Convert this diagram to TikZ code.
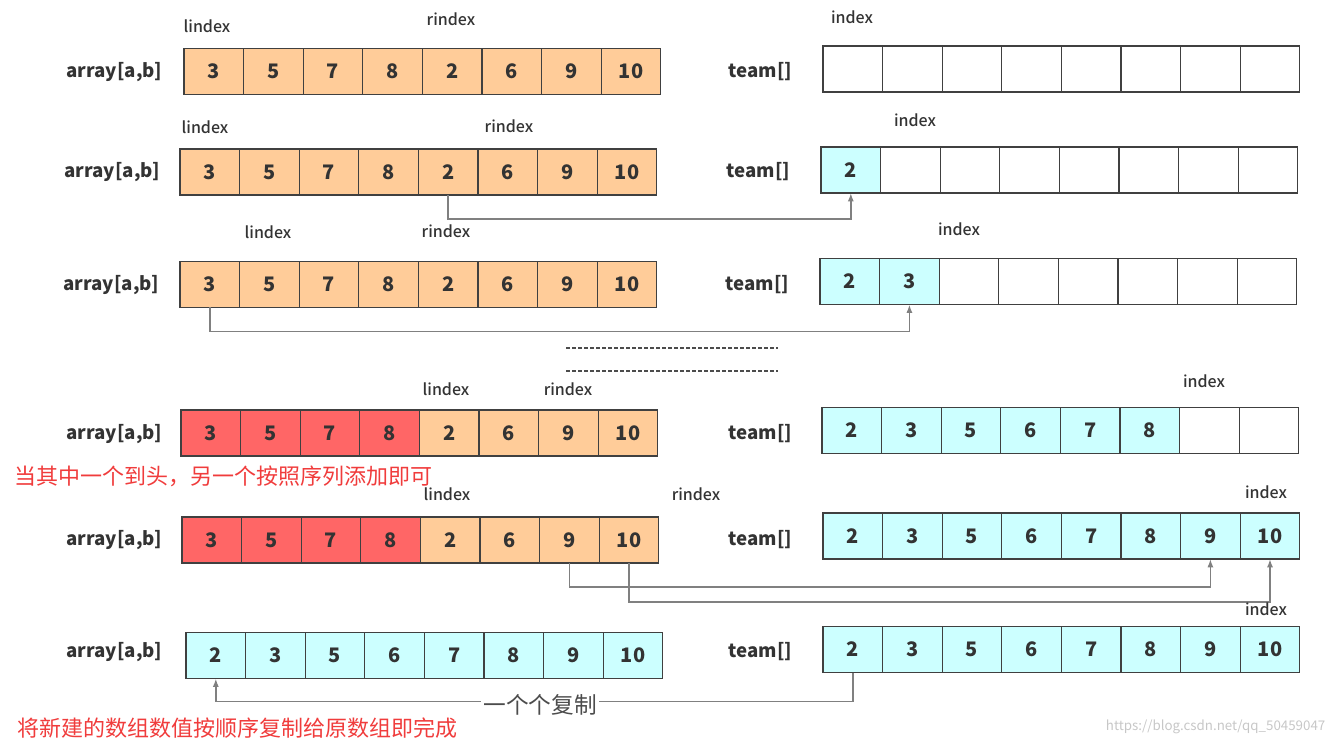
\documentclass[tikz,border=0pt]{standalone}
\usepackage{fontspec}
\setmainfont{Noto Sans CJK SC}
\newfontfamily\medfont{Noto Sans CJK SC Medium}
\usetikzlibrary{arrows.meta,positioning,calc}
\definecolor{cellorg}{RGB}{255,204,153}
\definecolor{cellred}{RGB}{255,102,102}
\definecolor{cellcyn}{RGB}{204,255,255}
\definecolor{linegray}{RGB}{64,64,64}
\definecolor{arrgray}{RGB}{128,128,128}
\definecolor{notered}{RGB}{240,60,60}
\tikzset{
  cell/.style={draw=linegray, line width=1pt, minimum width=44.7pt, minimum height=34.5pt,
    inner sep=0pt, outer sep=0pt, font=\fontsize{15}{18}\selectfont\bfseries, text=black!80},
  rowlab/.style={font=\fontsize{14}{17}\selectfont\bfseries, text=black!80, anchor=east},
  ptr/.style={font=\fontsize{12}{14}\selectfont\medfont, text=black!80},
  cpy/.style={-{Latex[length=2.2mm, width=1.6mm]}, arrgray, line width=1.2pt},
  note/.style={font=\fontsize{16.5}{20}\selectfont, text=notered, anchor=west, inner sep=0pt},
  dashsep/.style={dash pattern=on 3pt off 1.5pt, line width=0.8pt, black!70},
}
\newcommand{\cellrow}[4]{%
  \foreach \v/\f [count=\i] in {#4}
    \node[cell, fill=\f] (#1-\i) at ({#2+(\i-0.5)*59.6}, #3) {\v};}

\begin{document}
\begin{tikzpicture}[x=0.75pt, y=-0.75pt]
\useasboundingbox (0,0) rectangle (1339,745);
% row 1
\cellrow{a1}{184}{71.5}{3/cellorg,5/cellorg,7/cellorg,8/cellorg,2/cellorg,6/cellorg,9/cellorg,10/cellorg}
\cellrow{t1}{823}{69}{{}/white,{}/white,{}/white,{}/white,{}/white,{}/white,{}/white,{}/white}
\node[rowlab] (al1) at (167,72) {array[a,b]};
\node[rowlab] (tl1) at (797,72) {team[]};
\node[ptr] (li1) at (207,26) {lindex};
\node[ptr] (ri1) at (451,19) {rindex};
\node[ptr] (ix1) at (852,17) {index};
% row 2
\cellrow{a2}{180}{172}{3/cellorg,5/cellorg,7/cellorg,8/cellorg,2/cellorg,6/cellorg,9/cellorg,10/cellorg}
\cellrow{t2}{821}{170}{2/cellcyn,{}/white,{}/white,{}/white,{}/white,{}/white,{}/white,{}/white}
\node[rowlab] (al2) at (165,172) {array[a,b]};
\node[rowlab] (tl2) at (795,172) {team[]};
\node[ptr] (li2) at (205,127) {lindex};
\node[ptr] (ri2) at (509,126) {rindex};
\node[ptr] (ix2) at (915,120) {index};
\draw[cpy] (a2-5.south) -- ++(0,24) -| (t2-1.south);
% row 3
\cellrow{a3}{180}{284.5}{3/cellorg,5/cellorg,7/cellorg,8/cellorg,2/cellorg,6/cellorg,9/cellorg,10/cellorg}
\cellrow{t3}{820}{281.5}{2/cellcyn,3/cellcyn,{}/white,{}/white,{}/white,{}/white,{}/white,{}/white}
\node[rowlab] (al3) at (164,285) {array[a,b]};
\node[rowlab] (tl3) at (794,285) {team[]};
\node[ptr] (li3) at (268,232) {lindex};
\node[ptr] (ri3) at (446,231) {rindex};
\node[ptr] (ix3) at (959,229) {index};
\draw[cpy] (a3-1.south) -- ++(0,24) -| (t3-2.south);
% skipped steps
\draw[dashsep] (566,348) -- (778,348);
\draw[dashsep] (566,371) -- (778,371);
% row 4
\cellrow{a4}{181}{433}{3/cellred,5/cellred,7/cellred,8/cellred,2/cellorg,6/cellorg,9/cellorg,10/cellorg}
\cellrow{t4}{822}{430.5}{2/cellcyn,3/cellcyn,5/cellcyn,6/cellcyn,7/cellcyn,8/cellcyn,{}/white,{}/white}
\node[rowlab] (al4) at (167,434) {array[a,b]};
\node[rowlab] (tl4) at (797,434) {team[]};
\node[ptr] (li4) at (446,389) {lindex};
\node[ptr] (ri4) at (568,389) {rindex};
\node[ptr] (ix4) at (1204,381) {index};
\node[note] (note1) at (14,476) {当其中一个到头，另一个按照序列添加即可};
% row 5
\cellrow{a5}{182}{540}{3/cellred,5/cellred,7/cellred,8/cellred,2/cellorg,6/cellorg,9/cellorg,10/cellorg}
\cellrow{t5}{823}{536}{2/cellcyn,3/cellcyn,5/cellcyn,6/cellcyn,7/cellcyn,8/cellcyn,9/cellcyn,10/cellcyn}
\node[rowlab] (al5) at (167,540) {array[a,b]};
\node[rowlab] (tl5) at (797,540) {team[]};
\node[ptr] (li5) at (447,494) {lindex};
\node[ptr] (ri5) at (696,494) {rindex};
\node[ptr] (ix5) at (1266,492) {index};
\draw[cpy] (a5-7.south) -- ++(0,24) -| (t5-7.south);
\draw[cpy] (a5-8.south) -- ++(0,39) -| (t5-8.south);
% row 6
\cellrow{a6}{186}{655.5}{2/cellcyn,3/cellcyn,5/cellcyn,6/cellcyn,7/cellcyn,8/cellcyn,9/cellcyn,10/cellcyn}
\cellrow{t6}{823}{649.5}{2/cellcyn,3/cellcyn,5/cellcyn,6/cellcyn,7/cellcyn,8/cellcyn,9/cellcyn,10/cellcyn}
\node[rowlab] (al6) at (167,652) {array[a,b]};
\node[rowlab] (tl6) at (797,652) {team[]};
\node[ptr] (ix6) at (1266,609) {index};
\draw[cpy] (t6-1.south) -- ++(0,29) -| (a6-1.south);
\node[fill=white, inner sep=2pt, font=\fontsize{17}{20}\selectfont, text=black!70] (cplab) at (540,705) {一个个复制};
\node[note] (note2) at (17,728) {将新建的数组数值按顺序复制给原数组即完成};
\node[font=\fontsize{10}{12}\selectfont, text=black!22, anchor=east] (wm) at (1330,727) {https://blog.csdn.net/qq\_50459047};
\end{tikzpicture}
\end{document}
